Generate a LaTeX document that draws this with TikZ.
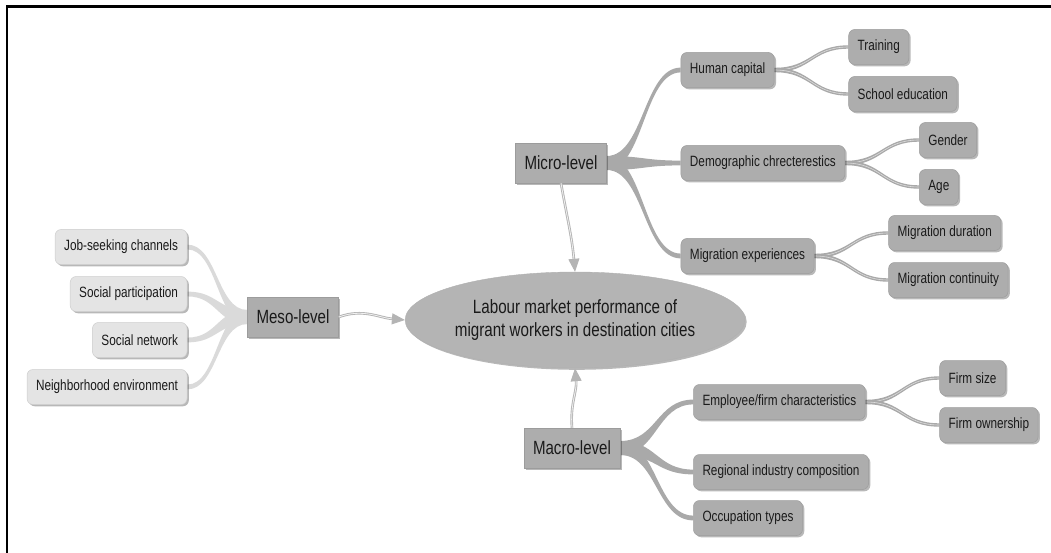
\documentclass[tikz,border=0pt]{standalone}
\usepackage{fontspec}
\setmainfont[FakeStretch=0.79]{Liberation Sans}
\usetikzlibrary{arrows.meta,positioning,calc,shapes.geometric,shadows,backgrounds}

\definecolor{boxgray}{HTML}{ADADAD}
\definecolor{boxedge}{HTML}{9C9C9C}
\definecolor{palebox}{HTML}{E4E4E4}
\definecolor{paleedge}{HTML}{CDCDCD}
\definecolor{twiggray}{HTML}{A9A9A9}
\definecolor{paletwig}{HTML}{DADADA}
\definecolor{arrowgray}{HTML}{B4B4B4}
\definecolor{inkgray}{HTML}{1A1A1A}

\tikzset{
  softshadow/.style={drop shadow={shadow xshift=1.8pt, shadow yshift=-1.8pt, fill=black, opacity=.28}},
  tier/.style={rectangle, fill=boxgray, draw=boxedge, line width=.5pt, minimum height=40pt,
    inner xsep=9pt, inner ysep=0pt, text=inkgray, font=\fontsize{19.1}{22}\selectfont, softshadow},
  leaf/.style={rectangle, rounded corners=6pt, fill=boxgray, draw=boxedge, line width=.5pt,
    minimum height=35pt, inner xsep=9pt, inner ysep=0pt, text=inkgray, font=\fontsize{14.9}{17}\selectfont, softshadow},
  paleleaf/.style={leaf, fill=palebox, draw=paleedge},
  core/.style={ellipse, fill=boxgray!92, draw=boxedge!80, line width=.4pt, minimum width=306pt,
    minimum height=96pt, inner sep=0pt, align=center, text=inkgray, font=\fontsize{19.2}{23}\selectfont, softshadow},
  twig/.style={fill=twiggray},
  paletwigs/.style={fill=paletwig},
  arr/.style={draw=arrowgray, double=white!88!gray, double distance=.8pt, line width=.9pt,
    -{Triangle[length=13pt,width=11pt,fill=arrowgray]}}
}

% tapered branch: style, from, to, half width at start, half width at end, glint opacity
\newcommand{\branch}[6]{%
  \fill[#1] let \p1=(#2), \p2=(#3), \p3=($(#2)!.5!(#3)$) in
    (\x1,\y1+#4) .. controls (\x3,\y1+#4) and (\x3,\y2+#5) .. (\x2,\y2+#5)
    -- (\x2,\y2-#5) .. controls (\x3,\y2-#5) and (\x3,\y1-#4) .. (\x1,\y1-#4) -- cycle;
  \draw[white, opacity=#6, line width=.6pt] let \p1=(#2), \p2=(#3), \p3=($(#2)!.5!(#3)$) in
    (\p1) .. controls (\x3,\y1) and (\x3,\y2) .. (\p2);
}

\begin{document}
\begin{tikzpicture}[x=1pt,y=1pt]
\useasboundingbox (0,0) rectangle (1051,-553);
\draw[line width=2.5pt] (7,-553) -- (7,-6.5) -- (1051,-6.5);

\node[core] (perf) at (575,-320) {Labour market performance of\\migrant workers in destination cities};
\node[tier] (micro) at (561,-163) {Micro-level};
\node[tier] (meso) at (293,-317) {Meso-level};
\node[tier] (macro) at (572,-448) {Macro-level};

% micro level
\node[leaf, right=74pt of micro.east, yshift=93pt] (human) {Human capital};
\node[leaf, right=74pt of micro.east] (demo) {Demographic chrecterestics};
\node[leaf, right=74pt of micro.east, yshift=-93pt] (migexp) {Migration experiences};
\node[leaf, right=74pt of human.east, yshift=23pt] (training) {Training};
\node[leaf, right=74pt of human.east, yshift=-24pt] (school) {School education};
\node[leaf, right=74pt of demo.east, yshift=23pt] (gender) {Gender};
\node[leaf, right=74pt of demo.east, yshift=-24pt] (age) {Age};
\node[leaf, right=74pt of migexp.east, yshift=23pt] (migdur) {Migration duration};
\node[leaf, right=74pt of migexp.east, yshift=-24pt] (migcon) {Migration continuity};

% meso level
\node[paleleaf, left=60pt of meso.west, yshift=70pt] (jobs) {Job-seeking channels};
\node[paleleaf, left=60pt of meso.west, yshift=23pt] (socpart) {Social participation};
\node[paleleaf, left=60pt of meso.west, yshift=-23pt] (socnet) {Social network};
\node[paleleaf, left=60pt of meso.west, yshift=-70pt] (neigh) {Neighborhood environment};

% macro level
\node[leaf, right=73pt of macro.east, yshift=46pt] (firmchar) {Employee/firm characteristics};
\node[leaf, right=73pt of macro.east, yshift=-24pt] (region) {Regional industry composition};
\node[leaf, right=73pt of macro.east, yshift=-70pt] (occup) {Occupation types};
\node[leaf, right=74pt of firmchar.east, yshift=24pt] (firmsize) {Firm size};
\node[leaf, right=74pt of firmchar.east, yshift=-23pt] (firmown) {Firm ownership};

\begin{scope}[on background layer]
  \foreach \kid in {human,demo,migexp} {\branch{twig}{micro.east}{\kid.west}{7pt}{2.4pt}{0}}
  \foreach \kid in {training,school} {\branch{twig}{human.east}{\kid.west}{2.2pt}{1.7pt}{.6}}
  \foreach \kid in {gender,age} {\branch{twig}{demo.east}{\kid.west}{2.2pt}{1.7pt}{.6}}
  \foreach \kid in {migdur,migcon} {\branch{twig}{migexp.east}{\kid.west}{2.2pt}{1.7pt}{.6}}
  \foreach \kid in {jobs,socpart,socnet,neigh} {\branch{paletwigs}{meso.west}{\kid.east}{7pt}{2.4pt}{0}}
  \foreach \kid in {firmchar,region,occup} {\branch{twig}{macro.east}{\kid.west}{7pt}{2.4pt}{0}}
  \foreach \kid in {firmsize,firmown} {\branch{twig}{firmchar.east}{\kid.west}{2.2pt}{1.7pt}{.6}}
\end{scope}

\draw[arr] (micro.south) to[out=-80,in=95] (perf.north);
\draw[arr] (meso.east) to[out=20,in=175] (perf.west);
\draw[arr] (macro.north) to[out=95,in=-85] (perf.south);
\end{tikzpicture}
\end{document}
